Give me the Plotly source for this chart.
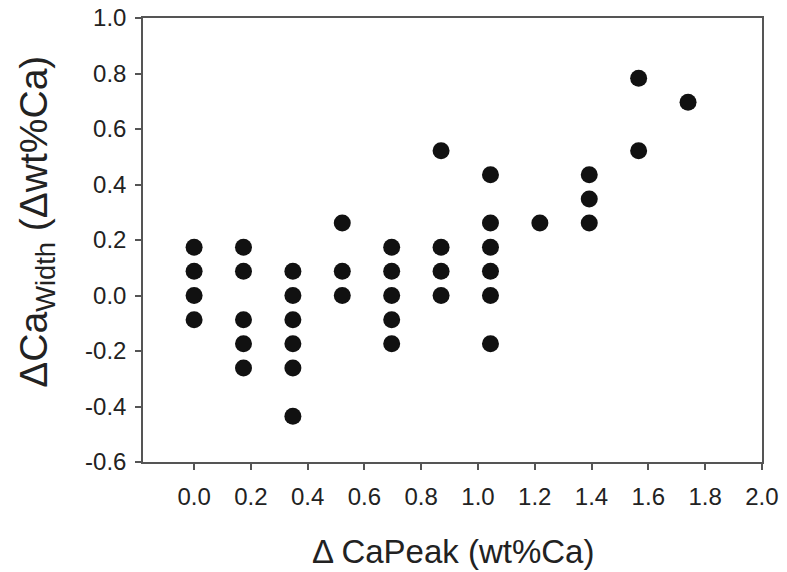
import plotly.graph_objects as go

# Data: ΔCaPeak (x) vs ΔCaWidth (y)
x_vals = [0.0, 0.0, 0.0, 0.0,
          0.174, 0.174, 0.174, 0.174, 0.174,
          0.348, 0.348, 0.348, 0.348, 0.348, 0.348,
          0.522, 0.522, 0.522,
          0.696, 0.696, 0.696, 0.696, 0.696,
          0.870, 0.870, 0.870, 0.870,
          1.044, 1.044, 1.044, 1.044, 1.044, 1.044,
          1.218,
          1.392, 1.392, 1.392,
          1.566, 1.566,
          1.740]
y_vals = [0.174, 0.087, 0.0, -0.087,
          0.174, 0.087, -0.087, -0.174, -0.261,
          0.087, 0.0, -0.087, -0.174, -0.261, -0.435,
          0.261, 0.087, 0.0,
          0.174, 0.087, 0.0, -0.087, -0.174,
          0.522, 0.174, 0.087, 0.0,
          0.435, 0.261, 0.174, 0.087, 0.0, -0.174,
          0.261,
          0.435, 0.348, 0.261,
          0.783, 0.522,
          0.696]

x_ticks = [0.0, 0.2, 0.4, 0.6, 0.8, 1.0, 1.2, 1.4, 1.6, 1.8, 2.0]
x_tick_labels = ["0.0", "0.2", "0.4", "0.6", "0.8", "1.0", "1.2", "1.4", "1.6", "1.8", "2.0"]
y_ticks = [-0.6, -0.4, -0.2, 0.0, 0.2, 0.4, 0.6, 0.8, 1.0]
y_tick_labels = ["-0.6", "-0.4", "-0.2", "0.0", "0.2", "0.4", "0.6", "0.8", "1.0"]

x_title = "Δ CaPeak (wt%Ca)"
y_title = "ΔCa<sub>Width</sub> (Δwt%Ca)"

FONT = "Liberation Sans, Arial, sans-serif"
AX = "#555555"
TXT = "#222222"

fig = go.Figure()
fig.add_trace(go.Scatter(
    x=x_vals, y=y_vals, mode="markers",
    marker=dict(size=17, color="#111111", line=dict(width=0)),
    showlegend=False,
))

fig.update_layout(
    width=787, height=572,
    margin=dict(l=143, r=25, t=18, b=110),
    paper_bgcolor="white", plot_bgcolor="white",
    font=dict(family=FONT, color=TXT, size=24),
    xaxis=dict(
        range=[-0.18, 2.0005], tickvals=x_ticks, ticktext=x_tick_labels,
        ticks="outside", ticklen=6, tickcolor=AX, tickwidth=1.5,
        showline=True, linecolor=AX, linewidth=1.5, mirror=True,
        showgrid=False, zeroline=False, automargin=False,
        tickfont=dict(size=24), ticklabelstandoff=6,
    ),
    yaxis=dict(
        range=[-0.6, 1.0], tickvals=y_ticks, ticktext=y_tick_labels,
        ticks="outside", ticklen=6, tickcolor=AX, tickwidth=1.5,
        showline=True, linecolor=AX, linewidth=1.5, mirror=True,
        showgrid=False, zeroline=False, automargin=False,
        tickfont=dict(size=24), ticklabelstandoff=4,
    ),
    annotations=[
        dict(text=x_title, xref="paper", yref="paper",
             x=0.5, y=-0.2027, xanchor="center", yanchor="middle",
             showarrow=False, font=dict(size=33, color=TXT, family=FONT)),
        dict(text=y_title, xref="paper", yref="paper",
             x=-0.172, y=0.54, xanchor="center", yanchor="middle",
             textangle=-90, showarrow=False,
             font=dict(size=39, color=TXT, family=FONT)),
    ],
)

fig.write_html("out.html")
